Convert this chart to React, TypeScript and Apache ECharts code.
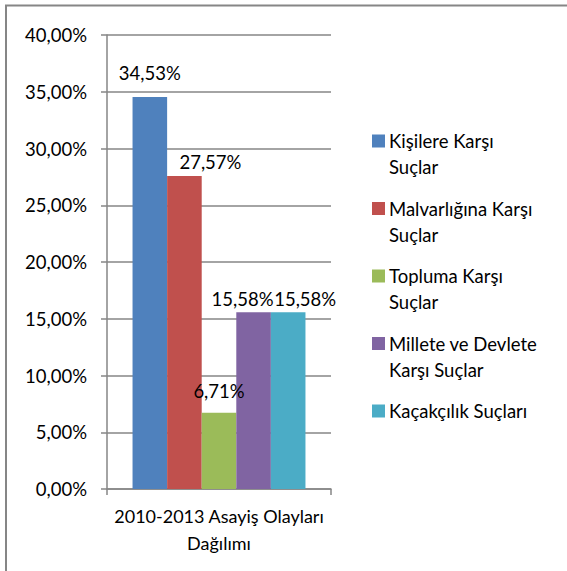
import React, { useEffect, useRef } from "react";
import * as echarts from "echarts";

const categories = ["2010-2013 Asayiş Olayları\nDağılımı"];
const seriesNames = [
  "Kişilere Karşı Suçlar",
  "Malvarlığına Karşı Suçlar",
  "Topluma Karşı Suçlar",
  "Millete ve Devlete Karşı Suçlar",
  "Kaçakçılık Suçları",
];
const legendLabels = [
  "Kişilere Karşı\nSuçlar",
  "Malvarlığına Karşı\nSuçlar",
  "Topluma Karşı\nSuçlar",
  "Millete ve Devlete\nKarşı Suçlar",
  "Kaçakçılık Suçları",
];
const seriesValues = [34.53, 27.57, 6.71, 15.58, 15.58];
const colors = ["#4F81BD", "#C0504D", "#9BBB59", "#8064A2", "#4BACC6"];
const labelDistance = [14, 4, 12, 3, 3];
const labelOffsetX = [0, 26, 0, -11, 17];

const FONT = "Lato, 'Open Sans', sans-serif";
const fmt = (v: number) => v.toFixed(2).replace(".", ",") + "%";

export default function App() {
  const ref = useRef<HTMLDivElement>(null);
  useEffect(() => {
    if (!ref.current) return;
    const chart = echarts.init(ref.current, undefined, { renderer: "svg" });
    const legendGraphics: any[] = [];
    legendLabels.forEach((lbl, i) => {
      const cy = 141 + i * 67.5;
      legendGraphics.push({
        type: "rect",
        shape: { x: 372, y: cy - 6.5, width: 13, height: 13 },
        style: { fill: colors[i] },
        silent: true,
      });
      legendGraphics.push({
        type: "text",
        x: 389,
        y: cy - 13,
        style: {
          text: lbl,
          fill: "#000",
          fontSize: 18.5,
          fontFamily: FONT,
          lineHeight: 26,
          verticalAlign: "top",
          align: "left",
        },
        silent: true,
      });
    });
    chart.setOption({
      animation: false,
      backgroundColor: "#fff",
      textStyle: { fontFamily: FONT },
      grid: { left: 107, top: 35, width: 224, height: 454, containLabel: false },
      xAxis: {
        type: "category",
        data: categories,
        axisLine: { lineStyle: { color: "#868686", width: 1.5 } },
        axisTick: { show: true, length: 6, alignWithLabel: false, lineStyle: { color: "#868686", width: 1.5 } },
        axisLabel: {
          color: "#000",
          fontSize: 18,
          fontFamily: FONT,
          lineHeight: 27,
          margin: 13,
        },
      },
      yAxis: {
        type: "value",
        min: 0,
        max: 40,
        interval: 5,
        axisLine: { show: true, lineStyle: { color: "#868686", width: 1.5 } },
        axisTick: { show: true, length: 6, lineStyle: { color: "#868686", width: 1.5 } },
        splitLine: { show: true, lineStyle: { color: "#868686", width: 1.5 } },
        axisLabel: {
          color: "#000",
          fontSize: 18.5,
          fontFamily: FONT,
          margin: 20,
          formatter: (v: number) => fmt(v),
        },
      },
      series: seriesNames.map((name, i) => ({
        name,
        type: "bar",
        barGap: "0%",
        barCategoryGap: "22.8%",
        data: [seriesValues[i]],
        itemStyle: { color: colors[i] },
        label: {
          show: true,
          position: "top",
          distance: labelDistance[i],
          offset: [labelOffsetX[i], 0],
          color: "#000",
          fontSize: 18.5,
          fontFamily: FONT,
          lineHeight: 20,
          formatter: (p: any) => fmt(p.value),
        },
      })),
      graphic: [
        {
          type: "rect",
          shape: { x: 6, y: 5.5, width: 700, height: 700 },
          style: { fill: "none", stroke: "#868686", lineWidth: 2 },
          silent: true,
          z: 100,
        },
        ...legendGraphics,
      ],
    });
    return () => chart.dispose();
  }, []);
  return (
    <div
      ref={ref}
      style={{ position: "fixed", left: 0, top: 0, width: 567, height: 571 }}
    />
  );
}
